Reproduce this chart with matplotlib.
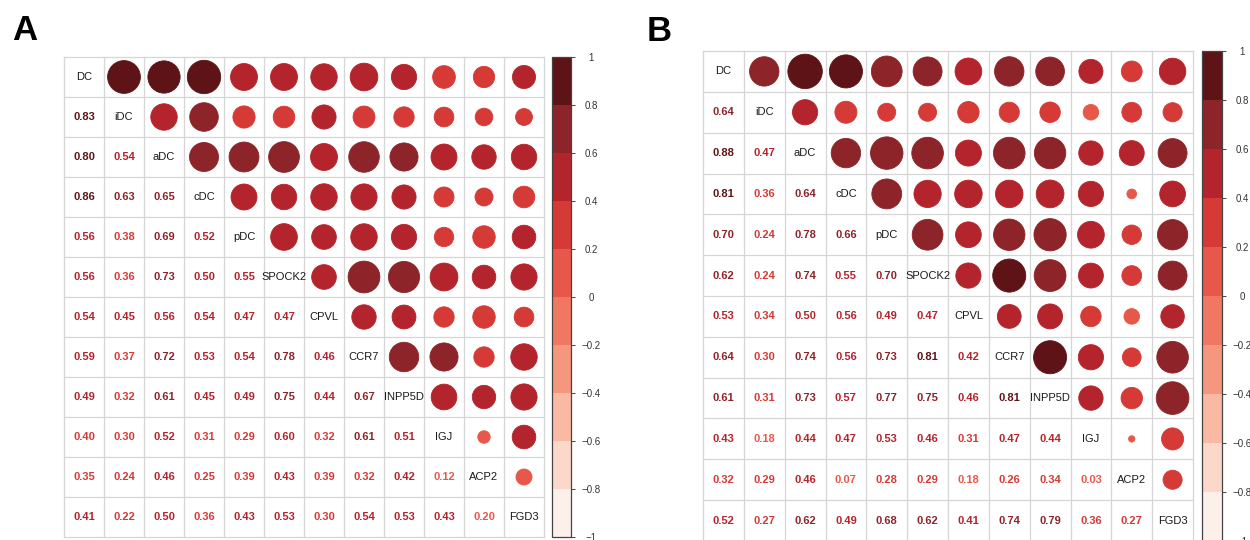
import numpy as np
import matplotlib

matplotlib.use("Agg")
import matplotlib.pyplot as plt
from matplotlib.colors import ListedColormap, BoundaryNorm
from matplotlib.patches import Circle
import matplotlib.colorbar as mcolorbar

plt.rcParams["font.family"] = ["Liberation Sans", "DejaVu Sans"]

GENES = ["DC", "iDC", "aDC", "cDC", "pDC", "SPOCK2", "CPVL", "CCR7",
         "INPP5D", "IGJ", "ACP2", "FGD3"]

# lower triangle of each correlation matrix, row by row (row i has i entries)
CORR_A = [
    [],
    [0.83],
    [0.803, 0.54],
    [0.86, 0.63, 0.65],
    [0.56, 0.38, 0.69, 0.52],
    [0.56, 0.36, 0.73, 0.50, 0.55],
    [0.54, 0.45, 0.56, 0.54, 0.47, 0.47],
    [0.59, 0.37, 0.72, 0.53, 0.54, 0.78, 0.46],
    [0.49, 0.32, 0.61, 0.45, 0.49, 0.75, 0.44, 0.67],
    [0.398, 0.30, 0.52, 0.31, 0.29, 0.598, 0.32, 0.61, 0.51],
    [0.35, 0.24, 0.46, 0.25, 0.39, 0.43, 0.39, 0.32, 0.42, 0.12],
    [0.41, 0.22, 0.50, 0.36, 0.43, 0.53, 0.30, 0.54, 0.53, 0.43, 0.198],
]

CORR_B = [
    [],
    [0.64],
    [0.88, 0.47],
    [0.81, 0.36, 0.64],
    [0.70, 0.24, 0.78, 0.66],
    [0.62, 0.24, 0.74, 0.55, 0.70],
    [0.53, 0.34, 0.50, 0.56, 0.49, 0.47],
    [0.64, 0.30, 0.74, 0.56, 0.73, 0.81, 0.42],
    [0.61, 0.31, 0.73, 0.57, 0.77, 0.75, 0.46, 0.81],
    [0.43, 0.18, 0.44, 0.47, 0.53, 0.46, 0.31, 0.47, 0.44],
    [0.32, 0.29, 0.46, 0.07, 0.28, 0.29, 0.18, 0.26, 0.34, 0.03],
    [0.52, 0.27, 0.62, 0.49, 0.68, 0.62, 0.41, 0.74, 0.79, 0.36, 0.27],
]

BIN_COLORS = ["#FDF0EA", "#FCD8CB", "#F9B9A3", "#F5977F", "#F07862",
              "#E8584A", "#D53A36", "#B3242C", "#8C2429", "#5E1416"]
BOUNDS = np.linspace(-1, 1, 11)

cmap = ListedColormap(BIN_COLORS)
norm = BoundaryNorm(BOUNDS, cmap.N)

W, H = 1250, 540


def px_rect(x0, y_top, w, h):
    return [x0 / W, (H - y_top - h) / H, w / W, h / H]


def full_matrix(lower):
    n = len(lower)
    m = np.eye(n)
    for i, row in enumerate(lower):
        for j, v in enumerate(row):
            m[i, j] = v
            m[j, i] = v
    return m


def draw_corrplot(ax, mat):
    n = mat.shape[0]
    ax.set_xlim(0, n)
    ax.set_ylim(n, 0)
    ax.set_axis_off()
    for k in range(n + 1):
        ax.plot([0, n], [k, k], color="#d6d6d6", lw=0.9, clip_on=False, zorder=1)
        ax.plot([k, k], [0, n], color="#d6d6d6", lw=0.9, clip_on=False, zorder=1)
    for i in range(n):
        for j in range(n):
            v = mat[i, j]
            cx, cy = j + 0.5, i + 0.5
            if i == j:
                ax.text(cx, cy, GENES[i], ha="center", va="center",
                        fontsize=8, color="#1a1a1a", zorder=3)
            elif i > j:
                ax.text(cx, cy, f"{v:.2f}", ha="center", va="center",
                        fontsize=8, fontweight="bold", color=cmap(norm(v)), zorder=3)
            else:
                c = cmap(norm(v))
                ax.add_patch(Circle((cx, cy), 0.45 * np.sqrt(abs(v)),
                                    facecolor=c, edgecolor=c, lw=0.6, zorder=2))


def draw_colorbar(cax):
    cb = mcolorbar.ColorbarBase(cax, cmap=cmap, norm=norm, boundaries=BOUNDS,
                                ticks=BOUNDS, orientation="vertical")
    cb.outline.set_edgecolor("#444444")
    cb.outline.set_linewidth(0.9)
    cb.set_ticklabels(["\u22121", "\u22120.8", "\u22120.6", "\u22120.4", "\u22120.2",
                       "0", "0.2", "0.4", "0.6", "0.8", "1"])
    cax.tick_params(axis="y", length=3, width=0.7, color="#444444",
                    labelsize=7, labelcolor="#333333", pad=11.5)
    for lab in cax.get_yticklabels():
        lab.set_ha("center")


fig = plt.figure(figsize=(W / 100, H / 100), dpi=100)

ax_a = fig.add_axes(px_rect(64, 57, 480, 480))
draw_corrplot(ax_a, full_matrix(CORR_A))
cax_a = fig.add_axes(px_rect(552, 57, 19, 480))
draw_colorbar(cax_a)

ax_b = fig.add_axes(px_rect(703, 51, 490, 490))
draw_corrplot(ax_b, full_matrix(CORR_B))
cax_b = fig.add_axes(px_rect(1202, 51, 20, 490))
draw_colorbar(cax_b)

fig.text(12 / W, 1 - 40 / H, "A", fontsize=25, fontweight="bold", va="baseline")
fig.text(647 / W, 1 - 41 / H, "B", fontsize=25, fontweight="bold", va="baseline")

fig.savefig("out.png", dpi=100, facecolor="white")
